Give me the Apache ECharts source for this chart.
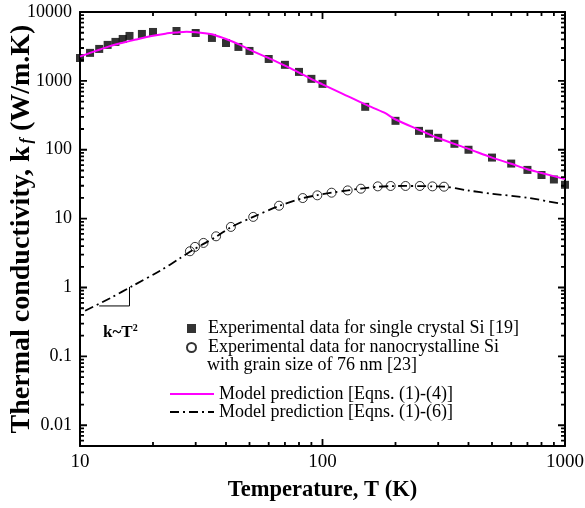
<!DOCTYPE html>
<html><head><meta charset="utf-8">
<script src="https://cdn.jsdelivr.net/npm/echarts@6/dist/echarts.min.js"></script>
<style>html,body{margin:0;padding:0;background:#fff}#c{width:585px;height:508px}</style>
</head><body><div id="c"></div>
<script>
// Single crystal Si (experimental, squares)
const crystalT = [10,11,12,13,14,15,16,18,20,25,30,35,40,45,50,60,70,80,90,100,150,200,250,275,300,350,400,500,600,700,800,900,1000];
const crystalK = [2150,2550,2910,3330,3680,4060,4490,4800,5130,5300,4960,4200,3550,3110,2720,2080,1710,1350,1070,905,420,263,188,171,149,122,100,77,63,51,43,37,31];
// Nanocrystalline Si (experimental, open circles)
const nanoT = [28.4,29.8,32.3,36.4,41.9,51.8,66.2,82.9,95.2,109,127,144,169,191,220,252,284,317];
const nanoK = [3.36,3.89,4.44,5.54,7.58,10.6,15.4,19.9,21.8,23.8,25.7,27.2,29.4,29.8,29.8,29.8,29.4,29.1];
// Model prediction Eqns (1)-(4)
const model1T = [10,11,12,13,14,15,17,20,22.5,25,27.5,30,35,37,40,45,50,60,70,80,90,100,120,150,180,200,250,300,400,500,600,700,800,1000];
const model1K = [2250,2550,2830,3120,3380,3580,3980,4520,4850,5040,5170,5100,4750,4450,4060,3420,2840,2140,1660,1320,1060,890,660,455,345,275,195,148,103,77,62.5,52,46,37.5];
// Model prediction Eqns (1)-(6)
const model2T = [10.5,13.3,16.6,21.4,25.8,28.4,32.3,36.4,41.9,51.8,66.2,82.9,95.2,109,127,144,169,191,220,252,284,317,400,500,700,1000];
const model2K = [0.46,0.70,1.07,1.75,2.65,3.3,4.3,5.45,7.5,10.6,15.3,19.8,21.9,23.8,25.7,27.3,29.0,29.6,29.8,29.7,29.4,29.2,25.6,23.0,20.1,16.0];
// k ~ T^2 slope triangle
const triT = [12,16,16];
const triK = [0.54,0.54,1.02];

const seriesNames = [
  'Experimental data for single crystal Si [19]',
  'Experimental data for nanocrystalline Si',
  'Model prediction [Eqns. (1)-(4)]',
  'Model prediction [Eqns. (1)-(6)]'
];
const FONT = 'Liberation Serif';
const zip = (a,b) => a.map((v,i)=>[v,b[i]]);

// axis ranges
const X_MIN = 10, X_MAX = 1000, Y_MIN = 0.005, Y_MAX = 10000;
// grid geometry (pixels) used to size the tick marks
const GRID = {left: 80, right: 20, top: 12, bottom: 62};
const W = 585 - GRID.left - GRID.right, H = 508 - GRID.top - GRID.bottom;
const pxPerDecX = W / Math.log10(X_MAX / X_MIN);
const pxPerDecY = H / Math.log10(Y_MAX / Y_MIN);

// axis tick marks on all four sides (decades long, 2..9 short), as segments
const tickSegs = [];
const GAP = ['-', '-'];
function xTick(v, len) {
  const f = Math.pow(10, len / pxPerDecY);
  tickSegs.push([v, Y_MIN], [v, Y_MIN * f], GAP, [v, Y_MAX], [v, Y_MAX / f], GAP);
}
function yTick(v, len) {
  const f = Math.pow(10, len / pxPerDecX);
  tickSegs.push([X_MIN, v], [X_MIN * f, v], GAP, [X_MAX, v], [X_MAX / f, v], GAP);
}
for (let e = 1; e <= 3; e++) xTick(Math.pow(10, e), 7);
for (let e = -2; e <= 4; e++) yTick(Math.pow(10, e), 7);
for (let e = 1; e < 3; e++) for (let m = 2; m <= 9; m++) xTick(m * Math.pow(10, e), 4);
for (let e = -3; e < 4; e++) for (let m = 2; m <= 9; m++) {
  const v = m * Math.pow(10, e);
  if (v > Y_MIN && v < Y_MAX) yTick(v, 4);
}

const chart = echarts.init(document.getElementById('c'));
const labFmt = v => {
  const l = Math.log10(v);
  if (Math.abs(l - Math.round(l)) > 1e-6) return '';
  return String(parseFloat(Number(v).toPrecision(6)));
};
function axisCommon() {
  return {
    type: 'log', logBase: 10,
    axisLine: {show: true, onZero: false, lineStyle: {color: '#000', width: 2}},
    axisTick: {show: false},
    splitLine: {show: false},
    minorTick: {show: false}
  };
}
chart.setOption({
  animation: false,
  backgroundColor: '#fff',
  grid: Object.assign({outerBoundsMode: 'none'}, GRID),
  title: [
    {text: 'with grain size of 76 nm [23]', left: 202, top: 351,
     textStyle: {fontFamily: FONT, fontSize: 18, fontWeight: 'normal', color: '#000', lineHeight: 19}},
    {text: '{a|k~T}{s|2}', left: 98, top: 318,
     textStyle: {rich: {
       a: {fontFamily: FONT, fontSize: 17, color: '#000'},
       s: {fontFamily: FONT, fontSize: 10, color: '#000', padding: [0,0,9,0]}
     }}}
  ],
  legend: [
    {data: [seriesNames[0], seriesNames[1]], orient: 'vertical', left: 181, top: 314,
     itemWidth: 9, itemHeight: 9, itemGap: 0,
     textStyle: {fontFamily: FONT, fontSize: 18, color: '#000', lineHeight: 19, padding: [0,0,0,7]}},
    {data: [seriesNames[2], seriesNames[3]], orient: 'vertical', left: 164, top: 380,
     itemWidth: 44, itemHeight: 9, itemGap: 0, itemStyle: {opacity: 0},
     textStyle: {fontFamily: FONT, fontSize: 18, color: '#000', lineHeight: 18}}
  ],
  xAxis: [
    Object.assign(axisCommon(), {
      position: 'bottom', min: X_MIN, max: X_MAX,
      axisLabel: {fontFamily: FONT, fontSize: 19, color: '#000', margin: 7, formatter: labFmt},
      name: 'Temperature, T (K)', nameLocation: 'middle', nameGap: 33, nameMoveOverlap: false,
      nameTextStyle: {fontFamily: FONT, fontSize: 22.5, fontWeight: 'bold', color: '#000'}
    }),
    Object.assign(axisCommon(), {
      position: 'top', min: X_MIN, max: X_MAX, axisLabel: {show: false}
    })
  ],
  yAxis: [
    Object.assign(axisCommon(), {
      position: 'left', min: Y_MIN, max: Y_MAX,
      axisLabel: {fontFamily: FONT, fontSize: 18, color: '#000', margin: 8, formatter: labFmt},
      name: '{a|Thermal conductivity, k}{s|f}{a| (W/m.K)}', nameLocation: 'middle', nameGap: 44, nameMoveOverlap: false,
      nameTextStyle: {rich: {
        a: {fontFamily: FONT, fontSize: 28, fontWeight: 'bold', color: '#000', lineHeight: 28},
        s: {fontFamily: FONT, fontSize: 16, fontWeight: 'bold', fontStyle: 'italic', color: '#000', lineHeight: 16, padding: [10,0,0,3]}
      }}
    }),
    Object.assign(axisCommon(), {
      position: 'right', min: Y_MIN, max: Y_MAX, axisLabel: {show: false}
    })
  ],
  series: [
    {name: seriesNames[0], type: 'scatter', data: zip(crystalT, crystalK), symbol: 'rect', symbolSize: 8,
     itemStyle: {color: '#000'}, z: 3},
    {name: seriesNames[1], type: 'scatter', data: zip(nanoT, nanoK), symbol: 'circle', symbolSize: 9,
     itemStyle: {color: 'rgba(255,255,255,0)', borderColor: '#000', borderWidth: 1}, z: 3},
    {name: seriesNames[2], type: 'line', data: zip(model1T, model1K), symbol: 'none', smooth: 0.3,
     lineStyle: {color: '#ff00ff', width: 2}, itemStyle: {color: '#ff00ff'}, z: 4},
    {name: seriesNames[3], type: 'line', data: zip(model2T, model2K), symbol: 'none', smooth: 0.3,
     lineStyle: {color: '#000', width: 1.8, type: [9,4,2,4]}, itemStyle: {color: '#000'}, z: 4},
    {name: 'slope', type: 'line', data: zip(triT, triK), symbol: 'none',
     lineStyle: {color: '#000', width: 1}, z: 4},
    {name: 'ticks', type: 'line', data: tickSegs, symbol: 'none', connectNulls: false, clip: false,
     silent: true, lineStyle: {color: '#000', width: 1.8}, z: 6}
  ]
});
</script></body></html>
